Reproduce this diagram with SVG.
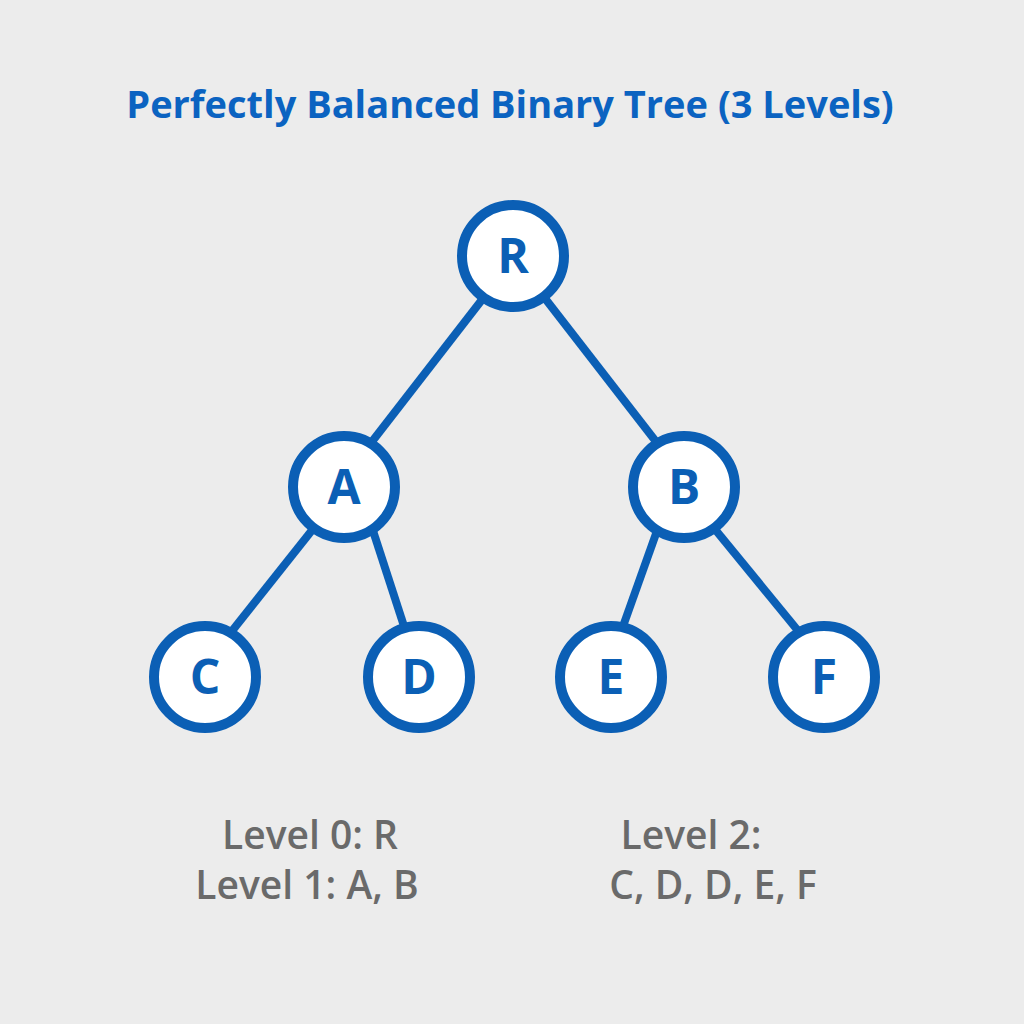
<svg xmlns="http://www.w3.org/2000/svg" width="1024" height="1024" viewBox="0 0 1024 1024">
<style>
.bg{fill:#ececec}
.title{font-family:"Open Sans","Liberation Sans",sans-serif;font-weight:700;font-size:38px;fill:#0b63c1}
.edge{stroke:#0b5fb5;stroke-width:8;stroke-linecap:butt;fill:none}
.node circle{fill:#ffffff;stroke:#0b5fb5;stroke-width:10}
.node text{font-family:"Open Sans","Liberation Sans",sans-serif;font-weight:700;font-size:48px;fill:#0b5fb5;text-anchor:middle}
.lbl{font-family:"Open Sans","Liberation Sans",sans-serif;font-weight:600;font-size:39px;fill:#6a6a6a;text-anchor:middle}
</style>
<rect class="bg" x="0" y="0" width="1024" height="1024"/>
<text class="title" x="510" y="118" text-anchor="middle">Perfectly Balanced Binary Tree (3 Levels)</text>
<g id="connectors">
<line class="edge" x1="505" y1="270" x2="350" y2="470"/>
<line class="edge" x1="523" y1="270" x2="678" y2="470"/>
<line class="edge" x1="336" y1="500" x2="209" y2="660"/>
<line class="edge" x1="363" y1="500" x2="415" y2="660"/>
<line class="edge" x1="668" y1="500" x2="611" y2="660"/>
<line class="edge" x1="691" y1="500" x2="822" y2="660"/>
</g>
<g id="node-R" class="node"><circle cx="513" cy="256" r="51"/><text x="513" y="273">R</text></g>
<g id="node-A" class="node"><circle cx="344" cy="487" r="51"/><text x="344" y="504">A</text></g>
<g id="node-B" class="node"><circle cx="684" cy="487" r="51"/><text x="684" y="504">B</text></g>
<g id="node-C" class="node"><circle cx="205" cy="677" r="51"/><text x="205" y="694">C</text></g>
<g id="node-D" class="node"><circle cx="419" cy="677" r="51"/><text x="419" y="694">D</text></g>
<g id="node-E" class="node"><circle cx="611" cy="677" r="51"/><text x="611" y="694">E</text></g>
<g id="node-F" class="node"><circle cx="824" cy="677" r="51"/><text x="824" y="694">F</text></g>
<g id="legend">
<text class="lbl" x="310" y="849">Level 0: R</text>
<text class="lbl" x="307" y="899">Level 1: A, B</text>
<text class="lbl" x="691" y="849">Level 2:</text>
<text class="lbl" x="713" y="899">C, D, D, E, F</text>
</g>
</svg>
